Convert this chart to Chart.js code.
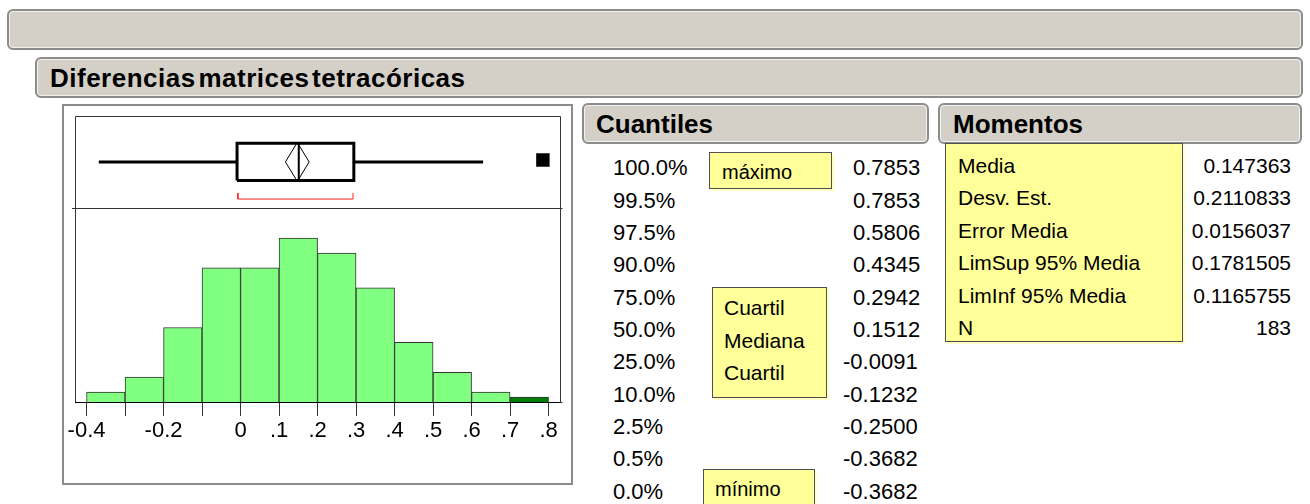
<!DOCTYPE html>
<html>
<head>
<meta charset="utf-8">
<script src="https://cdn.jsdelivr.net/npm/chart.js@4"></script>
<style>
body { margin: 0; width: 1310px; height: 504px; overflow: hidden; background: #fff; position: relative;
       font-family: "Liberation Sans", Arial, sans-serif; color: #000; }
.hdr { position: absolute; box-sizing: border-box; background: #d4d0c8; border: 2px solid #8c8c8c;
       border-radius: 6px; box-shadow: inset 0 0 0 1px #f2f2f2; }
.hdr span { position: absolute; top: 50%; transform: translateY(-50%); font-weight: bold; font-size: 26px; white-space: nowrap; line-height: 1; }
.t { position: absolute; white-space: nowrap; line-height: 1; transform: translateY(-50%); }
.yel { position: absolute; box-sizing: border-box; background: #ffff99; border: 1px solid #505050; box-shadow: 2px 2px 0 #ffffc4; }
#panel { position: absolute; left: 62px; top: 104px; width: 511px; height: 381px; box-sizing: border-box; border: 2px solid #8c8c8c; }
#wrap { position: absolute; left: 64px; top: 106px; width: 506px; height: 376px; }
</style>
</head>
<body>
<div class="hdr" style="left:7px;top:9px;width:1296px;height:41px"></div>
<div class="hdr" style="left:35px;top:57px;width:1268px;height:41px"><span style="left:13px;letter-spacing:0.5px;word-spacing:-5px">Diferencias matrices tetracóricas</span></div>
<div class="hdr" style="left:582px;top:103px;width:347px;height:41px"><span style="left:12px">Cuantiles</span></div>
<div class="hdr" style="left:938px;top:103px;width:364px;height:41px"><span style="left:13px">Momentos</span></div>
<div id="panel"></div>
<div id="wrap"><canvas id="hist"></canvas></div>
<div id="tables"></div>
<script>
// histogram bins (width 0.1) and counts, N = 183
const binCenters = [-0.35, -0.25, -0.15, -0.05, 0.05, 0.15, 0.25, 0.35, 0.45, 0.55, 0.65, 0.75];
const binCounts = [2, 5, 15, 27, 27, 33, 30, 23, 12, 6, 2, 1];
const tickValues = [-0.4, -0.3, -0.2, -0.1, 0, 0.1, 0.2, 0.3, 0.4, 0.5, 0.6, 0.7, 0.8];
const tickLabels = ['-0.4', '', '-0.2', '', '0', '.1', '.2', '.3', '.4', '.5', '.6', '.7', '.8'];
const xMin = -0.43, xMax = 0.831, countMax = 39;

// outlier box plot
const q1 = -0.0091, median = 0.1512, q3 = 0.2942;
const whiskerLow = -0.3682, whiskerHigh = 0.630;
const outliers = [0.7853];
const mean = 0.147363, meanCiLow = 0.1165755, meanCiHigh = 0.1781505;
const shortestHalf = [-0.007, 0.292];

// tables
const quantileLevels = ['100.0%', '99.5%', '97.5%', '90.0%', '75.0%', '50.0%', '25.0%', '10.0%', '2.5%', '0.5%', '0.0%'];
const quantileValues = ['0.7853', '0.7853', '0.5806', '0.4345', '0.2942', '0.1512', '-0.0091', '-0.1232', '-0.2500', '-0.3682', '-0.3682'];
const momentLabels = ['Media', 'Desv. Est.', 'Error Media', 'LimSup 95% Media', 'LimInf 95% Media', 'N'];
const momentValues = ['0.147363', '0.2110833', '0.0156037', '0.1781505', '0.1165755', '183'];

const tables = document.getElementById('tables');
function addText(txt, css) {
    const e = document.createElement('div');
    e.className = 't';
    e.textContent = txt;
    Object.assign(e.style, css);
    tables.appendChild(e);
}
function addBox(l, t, w, h) {
    const e = document.createElement('div');
    e.className = 'yel';
    Object.assign(e.style, {left: l + 'px', top: t + 'px', width: w + 'px', height: h + 'px'});
    tables.appendChild(e);
}

addBox(709, 152, 123, 37);
addBox(712, 287, 115, 111);
addBox(703, 469, 112, 50);
addBox(945, 143, 238, 199);

quantileLevels.forEach((q, i) => {
    const y = (168.3 + i * 32.34) + 'px';
    addText(q, {left: '613px', top: y, fontSize: '22px'});
    const v = quantileValues[i];
    addText(v, {left: (v[0] === '-' ? 843 : 853) + 'px', top: y, fontSize: '22px'});
});
addText('máximo', {left: '722px', top: '172px', fontSize: '20px'});
addText('Cuartil', {left: '724px', top: '307px', fontSize: '21px'});
addText('Mediana', {left: '724px', top: '339.5px', fontSize: '21px'});
addText('Cuartil', {left: '724px', top: '372px', fontSize: '21px'});
addText('mínimo', {left: '715px', top: '489px', fontSize: '20px'});

momentLabels.forEach((m, i) => {
    const y = (165 + i * 32.4) + 'px';
    addText(m, {left: '958px', top: y, fontSize: '21px'});
    addText(momentValues[i], {right: (1310 - 1291) + 'px', top: y, fontSize: '21px'});
});

const frame = {
    id: 'frame',
    afterDraw(chart) {
        const {ctx, chartArea: a, scales} = chart;
        const sep = Math.round(scales.yBox.bottom) + 0.5;
        ctx.save();
        ctx.strokeStyle = '#333';
        ctx.lineWidth = 1;
        ctx.beginPath();
        ctx.moveTo(Math.round(a.left) + 0.5, a.bottom);
        ctx.lineTo(Math.round(a.left) + 0.5, Math.round(a.top) + 0.5);
        ctx.lineTo(Math.round(a.right) - 0.5, Math.round(a.top) + 0.5);
        ctx.lineTo(Math.round(a.right) - 0.5, a.bottom);
        ctx.moveTo(a.left - 3, sep);
        ctx.lineTo(a.right + 2, sep);
        ctx.moveTo(a.right - 1, Math.round(a.bottom) + 0.5);
        ctx.lineTo(a.right + 2, Math.round(a.bottom) + 0.5);
        ctx.stroke();
        ctx.restore();
    }
};

const boxLine = (data, width, color) => ({
    type: 'line', yAxisID: 'yBox', data: data,
    borderColor: color || '#000', borderWidth: width, pointRadius: 0, fill: false, tension: 0
});

const hideY = s => { s.width = 0; s.paddingTop = 0; s.paddingBottom = 0; };

new Chart(document.getElementById('hist'), {
    type: 'bar',
    data: {
        datasets: [
            boxLine([{x: whiskerLow, y: 0.5}, {x: q1, y: 0.5}], 3),
            boxLine([{x: q3, y: 0.5}, {x: whiskerHigh, y: 0.5}], 3),
            boxLine([{x: q1, y: 0.3}, {x: q1, y: 0.7}, {x: q3, y: 0.7}, {x: q3, y: 0.3}, {x: q1, y: 0.3}], 3),
            boxLine([{x: median, y: 0.3}, {x: median, y: 0.7}], 2),
            boxLine([{x: meanCiLow, y: 0.5}, {x: mean, y: 0.71}, {x: meanCiHigh, y: 0.5}, {x: mean, y: 0.29}, {x: meanCiLow, y: 0.5}], 1),
            boxLine([{x: shortestHalf[0], y: 0.165}, {x: shortestHalf[0], y: 0.1}, {x: shortestHalf[1], y: 0.1}, {x: shortestHalf[1], y: 0.165}], 1, '#ff2020'),
            {
                type: 'line', yAxisID: 'yBox', showLine: false,
                data: outliers.map(v => ({x: v, y: 0.52})),
                pointStyle: 'rect', pointRadius: 9.5, backgroundColor: '#000', borderColor: '#000', borderWidth: 0
            },
            {
                type: 'bar', yAxisID: 'yHist',
                data: binCenters.map((c, i) => ({x: c, y: binCounts[i]})),
                backgroundColor: ctx => ctx.dataIndex === binCounts.length - 1 ? '#008000' : '#80ff80',
                borderColor: '#333',
                borderWidth: 1,
                borderSkipped: 'start',
                barPercentage: 1,
                categoryPercentage: 1
            }
        ]
    },
    options: {
        responsive: true,
        maintainAspectRatio: false,
        animation: false,
        events: [],
        layout: {padding: {left: 11, right: 9, top: 9, bottom: 0}},
        plugins: {legend: {display: false}, tooltip: {enabled: false}},
        scales: {
            x: {
                type: 'linear', min: xMin, max: xMax, offset: false,
                afterBuildTicks: s => { s.ticks = tickValues.map(v => ({value: v})); },
                afterFit: s => { s.height = 80; s.paddingLeft = 0; s.paddingRight = 0; },
                ticks: {
                    autoSkip: false, maxRotation: 0, padding: 2, color: '#000',
                    font: {family: '"Liberation Sans", Arial, sans-serif', size: 22},
                    callback: (v, i) => tickLabels[i]
                },
                grid: {display: true, drawOnChartArea: false, drawTicks: true, tickLength: 14, color: '#333', offset: false},
                border: {display: true, color: '#000', width: 1}
            },
            yHist: {
                type: 'linear', position: 'left', stack: 'v', stackWeight: 194,
                min: 0, max: countMax, afterFit: hideY,
                ticks: {display: false}, grid: {display: false}, border: {display: false}
            },
            yBox: {
                type: 'linear', position: 'left', stack: 'v', stackWeight: 93,
                min: 0, max: 1, afterFit: hideY,
                ticks: {display: false}, grid: {display: false}, border: {display: false}
            }
        }
    },
    plugins: [frame]
});
</script>
</body>
</html>
